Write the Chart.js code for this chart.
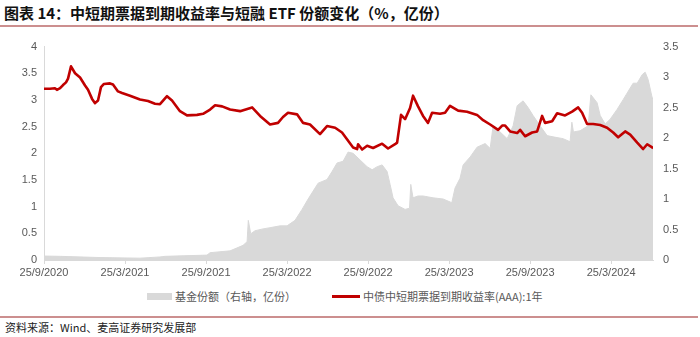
<!DOCTYPE html>
<html>
<head>
<meta charset="utf-8">
<script src="https://cdn.jsdelivr.net/npm/chart.js@4/dist/chart.umd.min.js"></script>
<style>
  body { margin: 0; background: #fff; width: 700px; height: 337px; position: relative; overflow: hidden;
         font-family: "Noto Sans CJK SC", "Liberation Sans", sans-serif; }
  .title { position: absolute; left: 4px; top: 3px; font-size: 15px; font-weight: bold; color: #111;
           line-height: 20px; white-space: nowrap; }
  .rule { position: absolute; left: 0; width: 698px; height: 2px; background: #cc8f8f; }
  #chartBox { position: absolute; left: 0; top: 30px; width: 700px; height: 250px; }
  .legend { position: absolute; top: 288px; font-size: 11px; color: #595959; line-height: 16px; white-space: nowrap; }
  .swatch { position: absolute; }
  .source { position: absolute; left: 5px; top: 320px; font-size: 11px; color: #222; line-height: 15px; white-space: nowrap; }
</style>
</head>
<body>
<div class="title">图表 14：中短期票据到期收益率与短融 ETF 份额变化（%，亿份）</div>
<div class="rule" style="top:25px"></div>

<div id="chartBox"><canvas id="chartOne"></canvas></div>

<div class="swatch" style="left:147px;top:293px;width:25px;height:7px;background:#d9d9d9"></div>
<div class="legend" style="left:175px">基金份额（右轴，亿份）</div>
<div class="swatch" style="left:332px;top:295px;width:28px;height:3px;background:#c00000"></div>
<div class="legend" style="left:363px">中债中短期票据到期收益率(AAA):1年</div>

<div class="rule" style="top:316px"></div>
<div class="source">资料来源：Wind、麦高证券研究发展部</div>

<script>
/* x axis runs in months counted from 25/9/2020 */
const tickMonths = [0, 6, 12, 18, 24, 30, 36, 42];
const tickLabels = ['25/9/2020', '25/3/2021', '25/9/2021', '25/3/2022',
                    '25/9/2022', '25/3/2023', '25/9/2023', '25/3/2024'];

// 1y AAA medium/short-term note yield, %
const rateMonths = [0, 0.44, 0.81, 0.96, 1.19, 1.41, 1.63, 1.78, 2.0, 2.3, 2.67, 3.04, 3.26, 3.56, 3.78, 4.0,
  4.22, 4.44, 4.89, 5.11, 5.48, 5.78, 6.37, 7.11, 7.7, 8.22, 8.59, 9.11, 9.48, 10.07, 10.59, 11.33,
  11.78, 12.3, 12.67, 13.19, 13.78, 14.52, 15.41, 16.0, 16.74, 17.33, 17.7, 18.07, 18.74, 19.19, 19.7,
  20.44, 20.96, 21.56, 22.07, 22.89, 23.19, 23.26, 23.56, 23.93, 24.37, 25.04, 25.48, 26.0, 26.15,
  26.44, 26.74, 27.11, 27.33, 27.7, 28.07, 28.44, 28.74, 29.33, 29.7, 30.07, 30.67, 31.33, 32.07,
  32.52, 33.04, 33.63, 33.93, 34.15, 34.52, 35.04, 35.26, 35.63, 36.15, 36.52, 36.89, 37.11, 37.63,
  38.0, 38.59, 39.11, 39.56, 39.85, 40.22, 40.67, 41.19, 41.7, 42.15, 42.52, 43.04, 43.41, 43.93,
  44.37, 44.67, 45.04, 45.11];
const rateValues = [3.21, 3.21, 3.22, 3.19, 3.22, 3.28, 3.33, 3.4, 3.63, 3.5, 3.42, 3.27, 3.19, 3.02, 2.94, 2.99,
  3.24, 3.3, 3.31, 3.29, 3.16, 3.13, 3.08, 3.01, 2.98, 2.93, 2.92, 3.07, 2.99, 2.79, 2.71, 2.72,
  2.74, 2.82, 2.9, 2.88, 2.82, 2.79, 2.86, 2.7, 2.54, 2.57, 2.68, 2.76, 2.73, 2.57, 2.54,
  2.36, 2.51, 2.48, 2.39, 2.11, 2.08, 2.17, 2.07, 2.14, 2.1, 2.18, 2.09, 2.17, 2.2,
  2.72, 2.64, 2.85, 3.08, 2.88, 2.7, 2.57, 2.76, 2.74, 2.76, 2.89, 2.8, 2.78, 2.72,
  2.62, 2.54, 2.44, 2.52, 2.52, 2.41, 2.38, 2.44, 2.32, 2.39, 2.41, 2.7, 2.57, 2.6,
  2.75, 2.71, 2.78, 2.86, 2.76, 2.55, 2.55, 2.53, 2.48, 2.39, 2.3, 2.41, 2.35, 2.2,
  2.08, 2.17, 2.11, 2.09];

// short-term financing ETF shares, 100m units (right axis)
const shareMonths = [0, 1.19, 4.15, 7.11, 8.59, 8.96, 12.07, 12.3, 13.78, 14.74, 15.04, 15.13, 15.31, 15.63,
  16.22, 16.74, 17.48, 18.0, 18.59, 19.11, 19.56, 19.93, 20.3, 20.96, 21.33, 21.7, 22.15, 22.52, 22.89,
  23.41, 23.93, 24.3, 24.67, 25.04, 25.41, 25.63, 25.85, 26.22, 26.74, 27.07, 27.16, 27.33, 27.7, 28.07,
  28.81, 29.56, 30.2, 30.44, 30.81, 31.04, 31.56, 32.07, 32.67, 33.04, 33.26, 33.78, 34.3, 34.74, 35.04,
  35.48, 35.85, 36.22, 36.74, 37.26, 37.7, 38.44, 38.96, 39.09, 39.21, 39.7, 40.3, 40.5, 40.96, 41.19,
  41.56, 41.93, 42.44, 42.89, 43.19, 43.63, 43.93, 44.3, 44.52, 44.74, 45.01, 45.11];
const shareValues = [0.065, 0.06, 0.04, 0.03, 0.05, 0.06, 0.08, 0.12, 0.15, 0.24, 0.3, 0.65, 0.43, 0.48,
  0.51, 0.53, 0.56, 0.56, 0.65, 0.83, 1.0, 1.13, 1.26, 1.32, 1.45, 1.59, 1.62, 1.77, 1.75,
  1.64, 1.53, 1.48, 1.53, 1.56, 1.45, 1.24, 1.02, 0.89, 0.83, 0.85, 1.24, 1.02, 1.05, 1.05,
  1.02, 1.0, 0.94, 1.18, 1.34, 1.56, 1.69, 1.85, 1.91, 1.83, 2.2, 2.1, 1.99, 2.2, 2.53,
  2.61, 2.5, 2.37, 2.2, 2.04, 2.02, 1.99, 1.94, 2.26, 2.1, 2.12, 2.2, 2.71, 2.58, 2.37,
  2.23, 2.31, 2.47, 2.63, 2.74, 2.9, 2.9, 3.04, 3.08, 2.96, 2.69, 2.61];

const toPoints = (xs, ys) => xs.map((m, i) => ({ x: m, y: ys[i] }));

const tickFont = { family: '"Liberation Sans", Arial, sans-serif', size: 11 };
const tickColor = '#595959';
// plain numbers on the value axes: 4, 3.5, 3 ...
const plainNumber = (value) => String(Math.round(value * 10) / 10);

const ctx = document.getElementById('chartOne').getContext('2d');
const chart1 = new Chart(ctx, {
  type: 'line',
  data: {
    datasets: [{
      label: '中债中短期票据到期收益率(AAA):1年',
      data: toPoints(rateMonths, rateValues),
      yAxisID: 'y',
      borderColor: '#c00000',
      borderWidth: 2.6,
      borderJoinStyle: 'round',
      pointRadius: 0,
      fill: false,
      order: 0
    }, {
      label: '基金份额（右轴，亿份）',
      data: toPoints(shareMonths, shareValues),
      yAxisID: 'y1',
      borderColor: '#d9d9d9',
      borderWidth: 1,
      backgroundColor: '#d9d9d9',
      pointRadius: 0,
      fill: 'origin',
      order: 1
    }]
  },
  options: {
    responsive: true,
    maintainAspectRatio: false,
    animation: false,
    layout: { padding: { top: 15, left: 0, right: 0, bottom: 0 } },
    plugins: { legend: { display: false }, tooltip: { enabled: false } },
    scales: {
      x: {
        type: 'linear',
        min: 0,
        max: 45.1,
        afterBuildTicks: (scale) => { scale.ticks = tickMonths.map(v => ({ value: v })); },
        afterFit: (scale) => { scale.height = 20; },
        ticks: {
          autoSkip: false,
          maxRotation: 0,
          padding: 2,
          color: tickColor,
          font: tickFont,
          callback: (value) => tickLabels[tickMonths.indexOf(value)]
        },
        grid: { drawOnChartArea: false, drawTicks: true, tickLength: 4, color: '#d9d9d9' },
        border: { display: true, color: '#d9d9d9' }
      },
      y: {
        position: 'left',
        min: 0,
        max: 4,
        afterFit: (scale) => { scale.width = 44; },
        ticks: { stepSize: 0.5, padding: 7, color: tickColor, font: tickFont, callback: plainNumber },
        grid: { drawOnChartArea: false, drawTicks: false },
        border: { display: true, color: '#d9d9d9' }
      },
      y1: {
        position: 'right',
        min: 0,
        max: 3.5,
        afterFit: (scale) => { scale.width = 47; },
        ticks: { stepSize: 0.5, padding: 10, color: tickColor, font: tickFont, callback: plainNumber },
        grid: { display: false, drawTicks: false },
        border: { display: false }
      }
    }
  }
});
</script>
</body>
</html>
